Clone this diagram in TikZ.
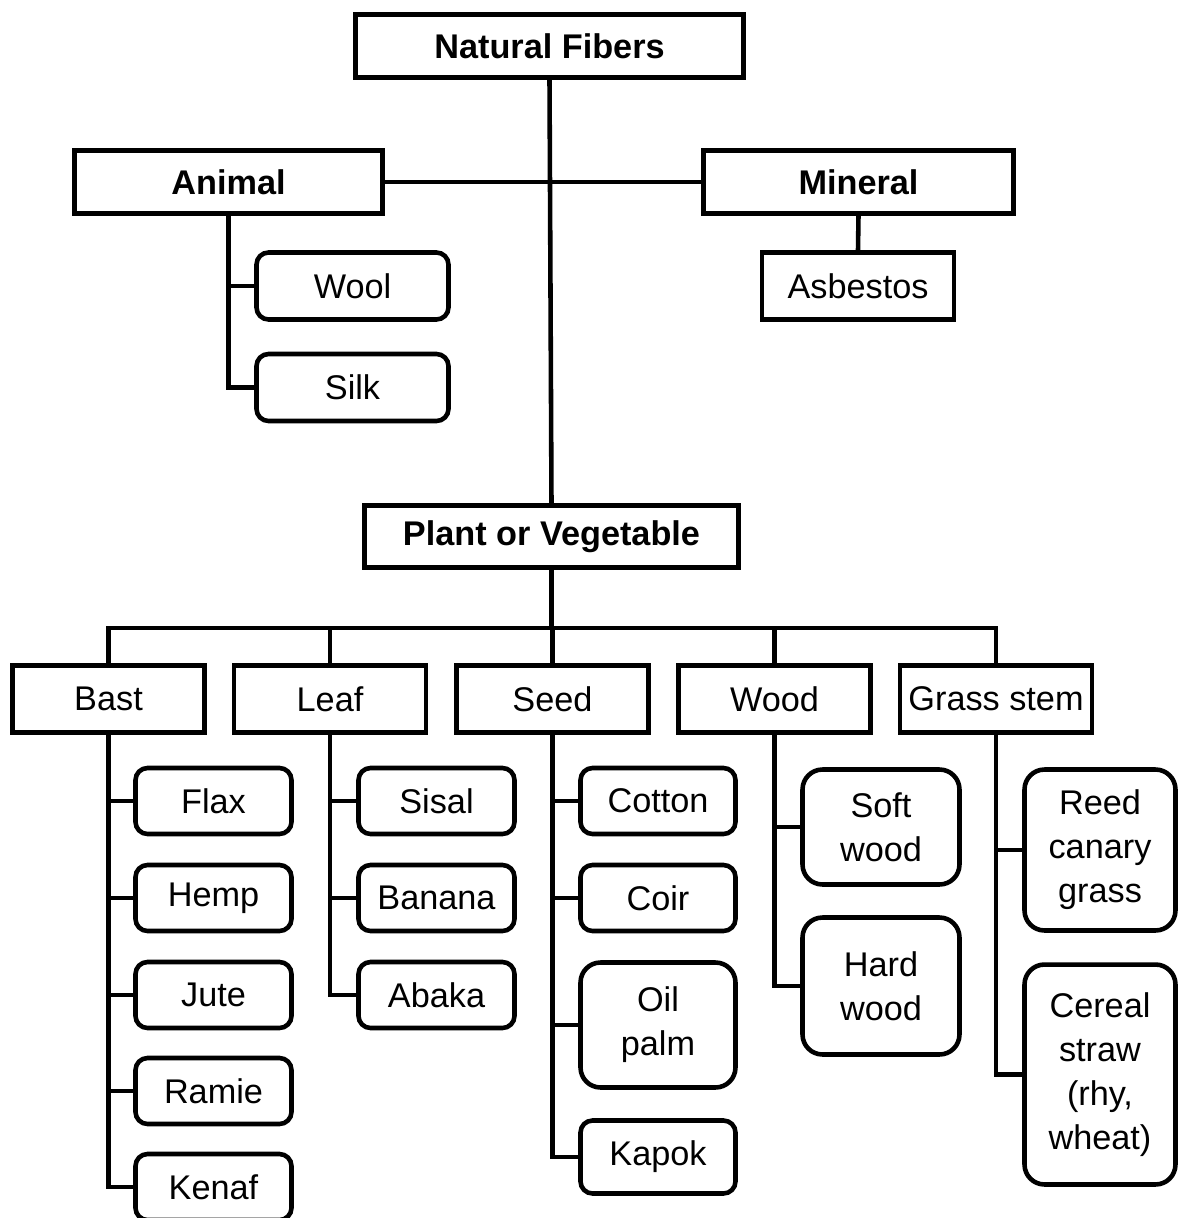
\documentclass[tikz,border=0pt]{standalone}
\usepackage{fontspec}
\setmainfont{Liberation Sans}
\tikzset{
  box/.style={draw,line width=2.6pt,inner sep=2pt,align=center,
    font=\fontsize{19.5pt}{25pt}\selectfont},
  headbox/.style={box,font=\fontsize{19.5pt}{25pt}\selectfont\bfseries},
  catbox/.style={box,minimum width=3.84cm,minimum height=1.34cm},
  fibre/.style={box,rounded corners=0.24cm,minimum width=3.12cm,minimum height=1.32cm},
  bigfibre/.style={box,rounded corners=0.4cm,minimum width=3.12cm},
  link/.style={line width=2.6pt},
}
\begin{document}
\begin{tikzpicture}[x=0.02cm,y=-0.02cm]
      \useasboundingbox (0,0) rectangle (1179,1218);

      % top levels
      \node[headbox,minimum width=7.76cm,minimum height=1.26cm] (natural) at (549.5,46) {Natural Fibers};
      \node[headbox,minimum width=6.16cm,minimum height=1.26cm] (animal) at (228.5,182) {Animal};
      \node[headbox,minimum width=6.2cm,minimum height=1.26cm] (mineral) at (858.5,182) {Mineral};
      \node[headbox,minimum width=7.48cm,minimum height=1.24cm] (plant) at (551.5,536.5) {Plant or Vegetable};
      \draw[link] (natural.south) -- (plant.north);
      \draw[link] (animal.east) -- (mineral.west);

      % animal and mineral
      \node[fibre,minimum width=3.84cm,minimum height=1.34cm] (wool) at (352.5,286) {Wool};
      \node[fibre,minimum width=3.84cm,minimum height=1.34cm] (silk) at (352.5,387.5) {Silk};
      \node[catbox] (asbestos) at (858,286) {Asbestos};
      \draw[link] (animal.south) |- (wool.west);
      \draw[link] (animal.south) |- (silk.west);
      \draw[link] (mineral.south) -- (asbestos.north);

      % plant groups on one bus
      \coordinate (bus) at (551.5,628);
      \node[catbox] (bast) at (108.5,699) {Bast};
      \node[catbox] (leaf) at (330,699) {Leaf};
      \node[catbox] (seed) at (552.5,699) {Seed};
      \node[catbox] (wood) at (774.5,699) {Wood};
      \node[catbox] (grass) at (996,699) {Grass stem};
      \draw[link] (plant.south) -- (bus);
      \foreach \g in {bast,leaf,seed,wood,grass}
        \draw[link] (\g.north) |- (bus);

      % bast
      \node[fibre] (flax) at (213.5,801) {Flax};
      \node[fibre] (hemp) at (213.5,898) {Hemp};
      \node[fibre] (jute) at (213.5,995) {Jute};
      \node[fibre] (ramie) at (213.5,1091) {Ramie};
      \node[fibre] (kenaf) at (213.5,1187) {Kenaf};
      \foreach \f in {flax,hemp,jute,ramie,kenaf}
        \draw[link] (bast.south) |- (\f.west);

      % leaf
      \node[fibre] (sisal) at (436.5,801) {Sisal};
      \node[fibre] (banana) at (436.5,898) {Banana};
      \node[fibre] (abaka) at (436.5,995) {Abaka};
      \foreach \f in {sisal,banana,abaka}
        \draw[link] (leaf.south) |- (\f.west);

      % seed
      \node[fibre,minimum width=3.1cm] (cotton) at (658,801) {Cotton};
      \node[fibre,minimum width=3.1cm] (coir) at (658,898) {Coir};
      \node[bigfibre,minimum width=3.1cm,minimum height=2.5cm] (oilpalm) at (658,1025) {Oil\\palm};
      \node[fibre,minimum width=3.1cm,minimum height=1.46cm] (kapok) at (658,1157) {Kapok};
      \foreach \f in {cotton,coir,oilpalm,kapok}
        \draw[link] (seed.south) |- (\f.west);

      % wood
      \node[bigfibre,minimum width=3.14cm,minimum height=2.3cm] (softwood) at (881,827) {Soft\\wood};
      \node[bigfibre,minimum width=3.14cm,minimum height=2.74cm] (hardwood) at (881,986) {Hard\\wood};
      \foreach \f in {softwood,hardwood}
        \draw[link] (wood.south) |- (\f.west);

      % grass stem
      \node[bigfibre,minimum width=3.02cm,minimum height=3.22cm] (reed) at (1100,850) {Reed\\canary\\grass};
      \node[bigfibre,minimum width=3.02cm,minimum height=4.4cm] (cereal) at (1100,1074.5) {Cereal\\straw\\(rhy,\\wheat)};
      \foreach \f in {reed,cereal}
        \draw[link] (grass.south) |- (\f.west);
\end{tikzpicture}
\end{document}
